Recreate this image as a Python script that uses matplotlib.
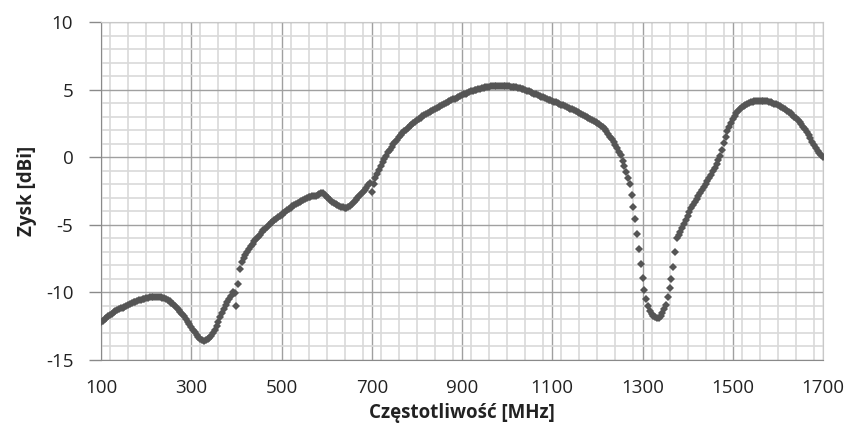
#moduli
import numpy as np
import matplotlib
matplotlib.use('Agg')
import matplotlib.pyplot as mpl
from matplotlib.ticker import MultipleLocator

mpl.rcParams['font.family'] = ['Open Sans', 'DejaVu Sans']
mpl.rcParams['axes.unicode_minus'] = False

#dane pomiarowe: zysk anteny, krok 4 MHz
freq = np.arange(100, 1701, 4)
gain = [
    -12.20, -12.08, -11.97, -11.86, -11.76, -11.66, -11.57, -11.48, -11.40, -11.33,
    -11.26, -11.19, -11.12, -11.05, -10.98, -10.91, -10.85, -10.79, -10.73, -10.68,
    -10.63, -10.58, -10.54, -10.50, -10.46, -10.42, -10.39, -10.36, -10.34, -10.33,
    -10.33, -10.33, -10.35, -10.37, -10.41, -10.45, -10.50, -10.57, -10.65, -10.75,
    -10.86, -10.98, -11.12, -11.27, -11.43, -11.60, -11.78, -11.97, -12.16, -12.35,
    -12.55, -12.75, -12.95, -13.13, -13.30, -13.43, -13.52, -13.56, -13.55, -13.48,
    -13.36, -13.20, -13.00, -12.75, -12.48, -12.18, -11.85, -11.52, -11.20, -10.92,
    -10.70, -10.50, -10.25, -10.00, -10.05, -11.00, -9.40, -8.30, -7.75, -7.45,
    -7.20, -6.98, -6.78, -6.60, -6.40, -6.22, -6.05, -5.88, -5.72, -5.56,
    -5.42, -5.28, -5.15, -5.02, -4.90, -4.78, -4.66, -4.55, -4.44, -4.34,
    -4.24, -4.14, -4.04, -3.94, -3.84, -3.74, -3.64, -3.55, -3.46, -3.38,
    -3.30, -3.22, -3.15, -3.08, -3.02, -2.97, -2.93, -2.90, -2.87, -2.84,
    -2.80, -2.72, -2.62, -2.65, -2.78, -2.92, -3.05, -3.17, -3.28, -3.38,
    -3.47, -3.55, -3.62, -3.68, -3.72, -3.75, -3.74, -3.68, -3.58, -3.46,
    -3.33, -3.20, -3.05, -2.90, -2.74, -2.58, -2.42, -2.26, -2.08, -1.90,
    -2.55, -1.95, -1.55, -1.22, -0.92, -0.65, -0.38, -0.12, 0.12, 0.35,
    0.56, 0.76, 0.95, 1.13, 1.30, 1.46, 1.61, 1.76, 1.90, 2.03,
    2.16, 2.28, 2.40, 2.51, 2.62, 2.72, 2.82, 2.92, 3.01, 3.10,
    3.19, 3.28, 3.36, 3.44, 3.52, 3.60, 3.67, 3.74, 3.81, 3.88,
    3.95, 4.02, 4.08, 4.15, 4.21, 4.28, 4.34, 4.40, 4.46, 4.52,
    4.58, 4.64, 4.70, 4.76, 4.81, 4.86, 4.91, 4.96, 5.00, 5.04,
    5.08, 5.11, 5.14, 5.17, 5.19, 5.21, 5.23, 5.24, 5.25, 5.26,
    5.26, 5.26, 5.26, 5.26, 5.25, 5.25, 5.24, 5.22, 5.20, 5.18,
    5.16, 5.13, 5.10, 5.06, 5.02, 4.98, 4.93, 4.88, 4.83, 4.77,
    4.71, 4.65, 4.59, 4.54, 4.48, 4.43, 4.37, 4.32, 4.26, 4.21,
    4.16, 4.11, 4.06, 4.00, 3.95, 3.89, 3.84, 3.78, 3.72, 3.66,
    3.60, 3.55, 3.48, 3.41, 3.34, 3.27, 3.20, 3.13, 3.07, 3.00,
    2.93, 2.86, 2.78, 2.70, 2.61, 2.52, 2.43, 2.32, 2.20, 2.05,
    1.90, 1.72, 1.52, 1.32, 1.10, 0.88, 0.65, 0.42, 0.15, -0.25,
    -0.65, -1.10, -1.55, -2.00, -2.78, -3.65, -4.60, -5.70, -6.80, -7.90,
    -8.95, -9.80, -10.50, -11.00, -11.35, -11.60, -11.75, -11.85, -11.90, -11.88,
    -11.78, -11.55, -11.25, -10.90, -10.35, -9.70, -9.00, -8.10, -7.00, -6.00,
    -5.75, -5.50, -5.22, -4.92, -4.62, -4.32, -4.04, -3.78, -3.54, -3.32,
    -3.10, -2.88, -2.66, -2.44, -2.22, -2.00, -1.78, -1.55, -1.30, -1.05,
    -0.78, -0.50, -0.20, 0.10, 0.55, 1.05, 1.50, 1.90, 2.25, 2.55,
    2.82, 3.06, 3.26, 3.43, 3.57, 3.70, 3.80, 3.88, 3.95, 4.01,
    4.06, 4.10, 4.13, 4.15, 4.16, 4.17, 4.17, 4.16, 4.15, 4.13,
    4.10, 4.06, 4.02, 3.97, 3.91, 3.85, 3.78, 3.70, 3.62, 3.53,
    3.44, 3.35, 3.25, 3.13, 3.00, 2.87, 2.73, 2.58, 2.42, 2.24,
    2.05, 1.85, 1.63, 1.40, 1.15, 0.90, 0.68, 0.48, 0.30, 0.14,
    0.02,
]

x_ticks = [100, 300, 500, 700, 900, 1100, 1300, 1500, 1700]
y_ticks = [-15, -10, -5, 0, 5, 10]

#wykres
fig = mpl.figure(figsize=(8.54, 4.32), dpi=100)
ax = fig.add_axes([0.1183, 0.1667, 0.8454, 0.7824])

ax.plot(freq, gain, linestyle='none', marker='D', markersize=4.3,
        color='#555555', markeredgewidth=0, zorder=3)

#osie i siatka
ax.set_xlim(100, 1700)
ax.set_ylim(-15, 10)
ax.set_xticks(x_ticks)
ax.set_yticks(y_ticks)
ax.xaxis.set_minor_locator(MultipleLocator(40))
ax.yaxis.set_minor_locator(MultipleLocator(1))
ax.grid(which='minor', color='#d9d9d9', linewidth=1.2, zorder=0)
ax.grid(which='major', color='#a0a0a0', linewidth=1.0, zorder=1)
ax.set_axisbelow(True)

for s in ['top', 'right']:
    ax.spines[s].set_color('#c8c8c8')
for s in ['left', 'bottom']:
    ax.spines[s].set_color('#8a8a8a')

ax.tick_params(axis='y', which='major', length=9, width=1, color='#8a8a8a',
               labelsize=13.5, pad=11, labelcolor='#222222')
ax.tick_params(axis='x', which='major', length=0, labelsize=13.5, pad=14,
               labelcolor='#222222')
ax.tick_params(which='minor', length=0)

ax.set_xlabel('Częstotliwość [MHz]', fontsize=13.5, fontweight='bold',
              color='#222222', labelpad=4)
ax.set_ylabel('Zysk [dBi]', fontsize=13.5, fontweight='bold', color='#222222',
              labelpad=6)

mpl.savefig('out.png', dpi=100)
